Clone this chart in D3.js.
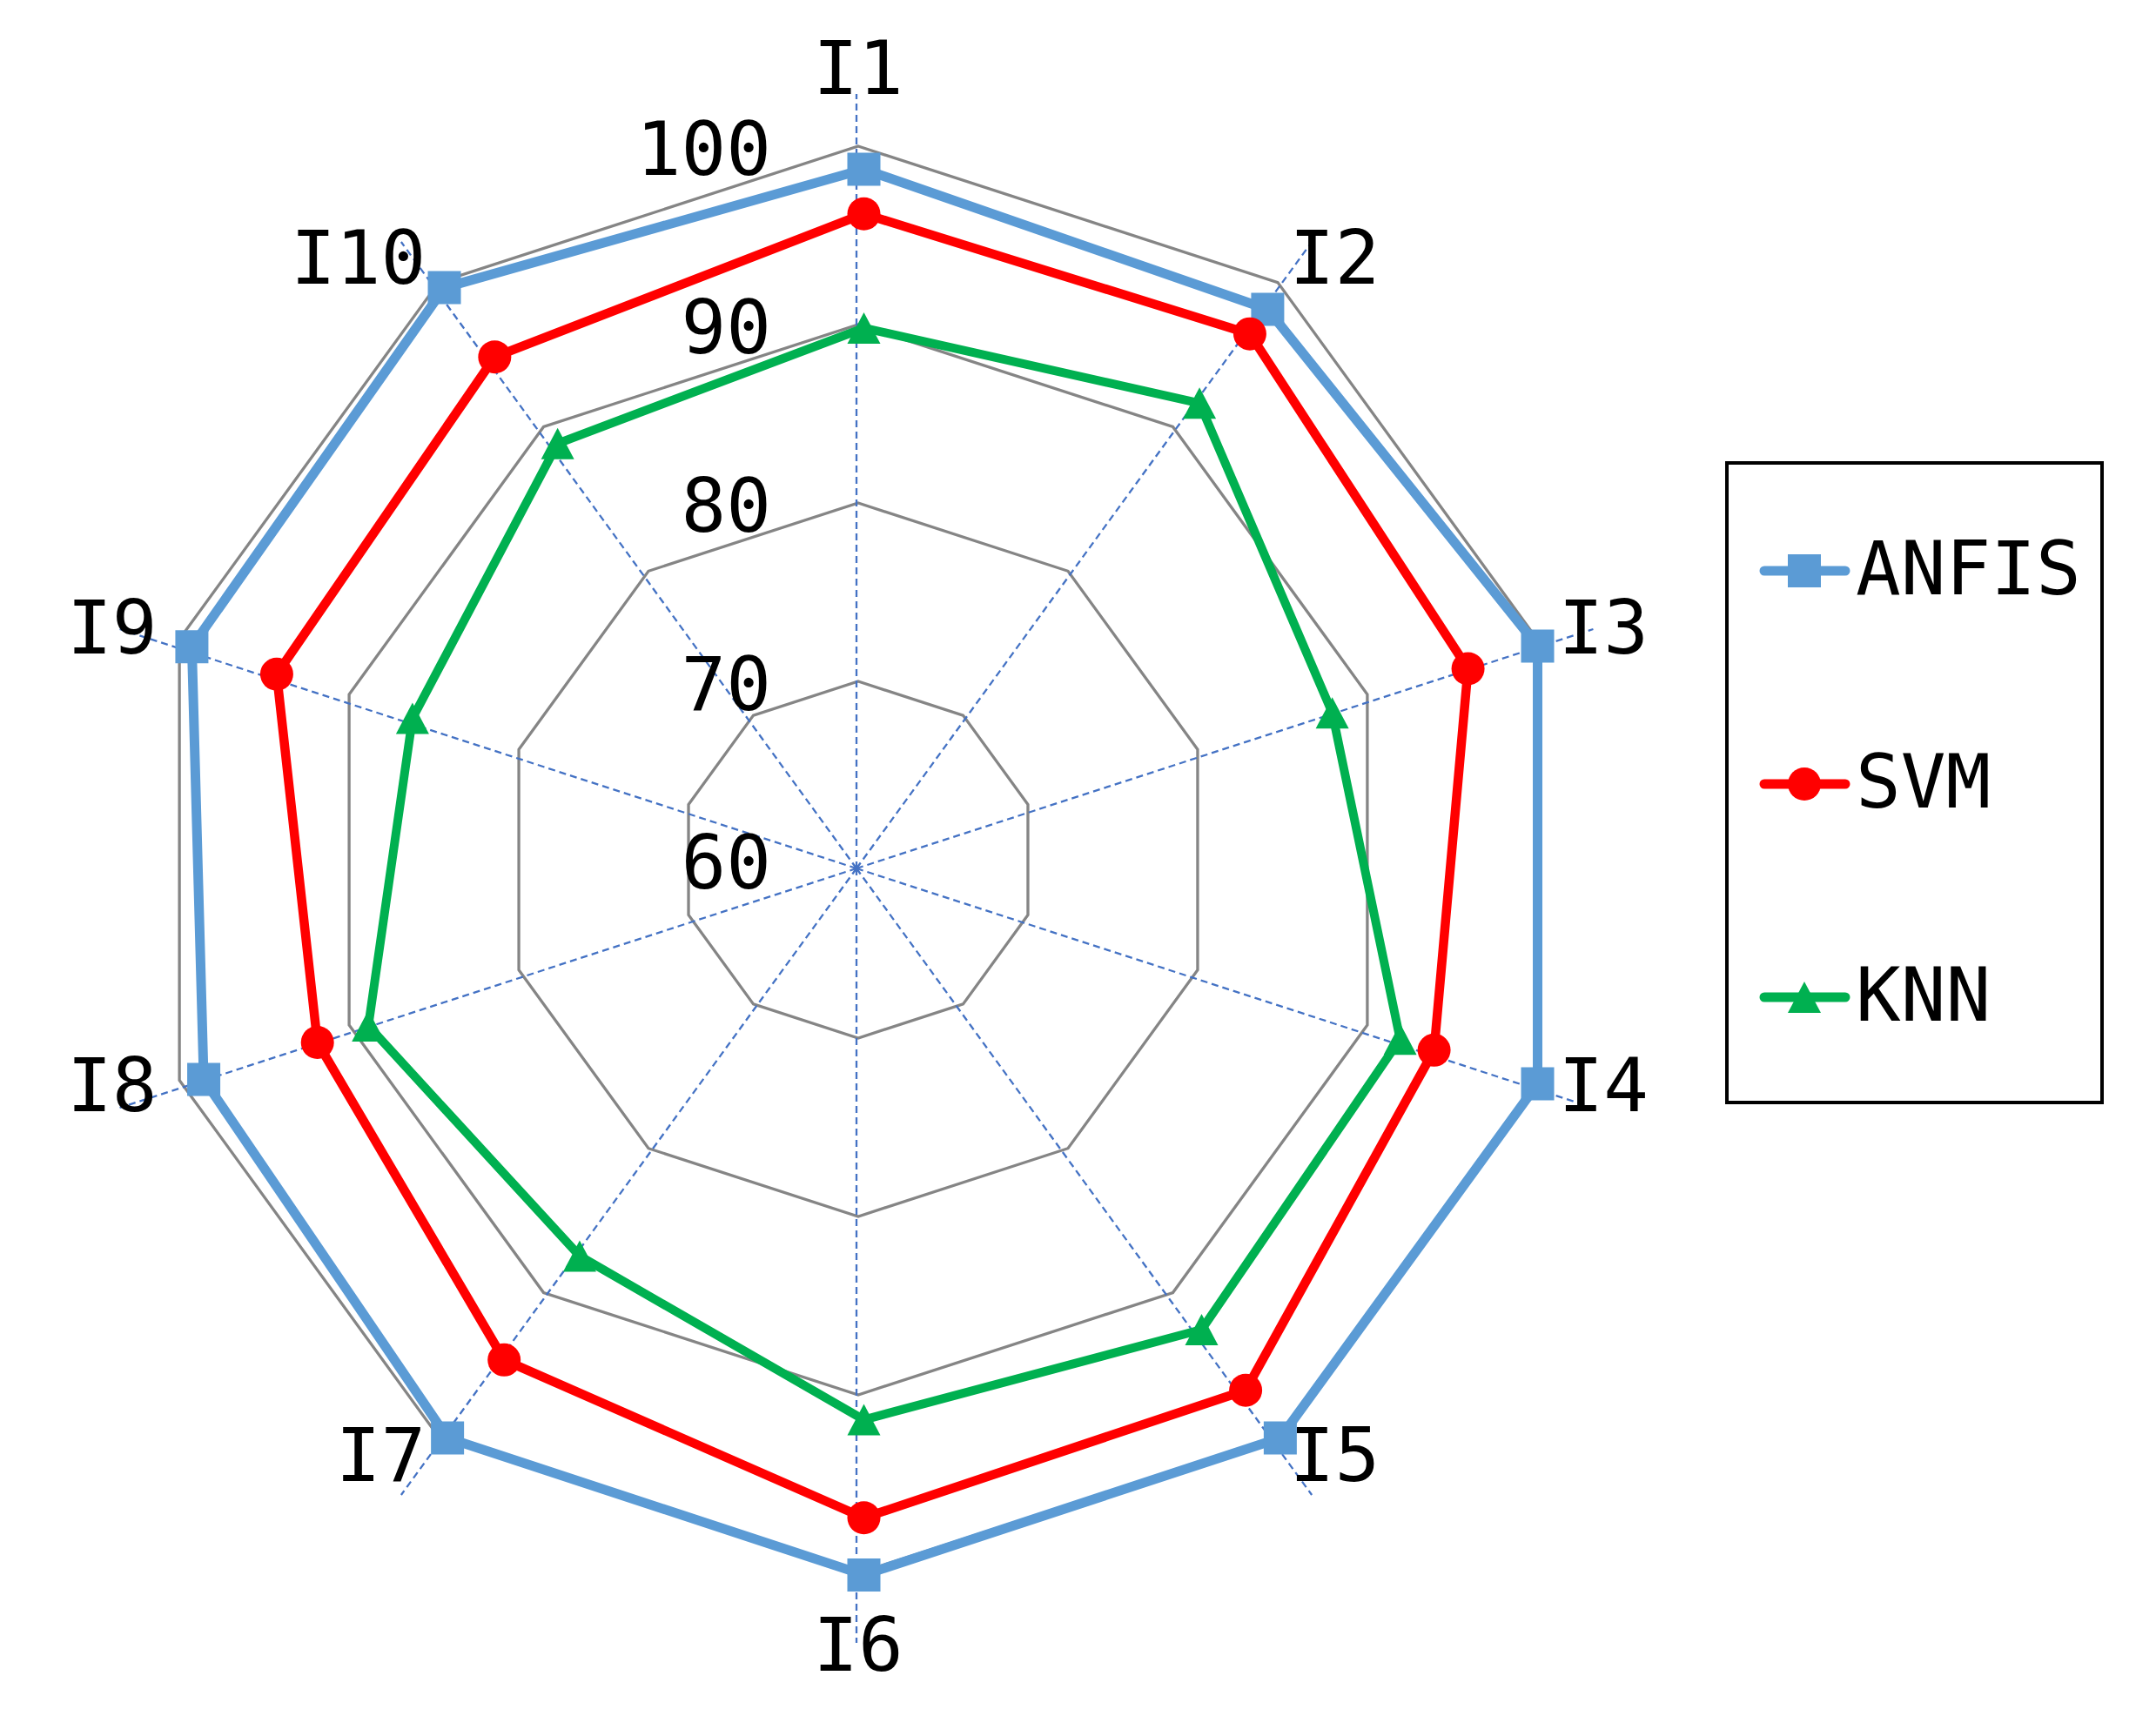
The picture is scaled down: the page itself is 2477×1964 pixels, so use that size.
<!DOCTYPE html>
<html><head><meta charset="utf-8">
<script src="https://cdn.jsdelivr.net/npm/d3@7"></script>
<style>html,body{margin:0;padding:0;background:#fff;} svg{display:block;}</style>
</head><body>
<svg id="chart" width="2477" height="1964"></svg>
<script>
// ---- data ----
const axesLabels = ["I1","I2","I3","I4","I5","I6","I7","I8","I9","I10"];
const anfisValues = [99.0, 98.5, 99.7, 99.7, 99.7, 99.8, 99.7, 98.9, 99.6, 100.0];
const svmValues   = [96.5, 96.8, 95.6, 93.6, 96.4, 96.6, 94.3, 92.2, 94.6, 95.2];
const knnValues   = [90.1, 92.0, 87.6, 91.6, 92.2, 91.1, 87.1, 89.2, 86.6, 89.2];
const tickValues  = [60, 70, 80, 90, 100];
const seriesNames = ["ANFIS", "SVM", "KNN"];

// ---- layout / style ----
const svg = d3.select("#chart");
const R = 820;
const gridCenter   = [986, 988];
const spokeCenter  = [984, 998];
const seriesCenter = [992.5, 994];
const labelCenter  = [986, 983];
const font = "'DejaVu Sans Mono', monospace";
const fontSize = 86;

const rScale = d3.scaleLinear().domain([60, 100]).range([0, R]);
const aScale = d3.scaleLinear().domain([0, axesLabels.length]).range([0, 2 * Math.PI]);
function pt(c, i, radius) {
  const a = aScale(i);
  return [c[0] + radius * Math.sin(a), c[1] - radius * Math.cos(a)];
}

const series = [
  {name: seriesNames[0], values: anfisValues, color: "#5B9BD5", width: 11,   marker: "square"},
  {name: seriesNames[1], values: svmValues,   color: "#FF0000", width: 10.5, marker: "circle"},
  {name: seriesNames[2], values: knnValues,   color: "#00B050", width: 10,   marker: "triangle"}
];

const triangleType = {
  draw(ctx, size) {
    const s = Math.sqrt(size);
    ctx.moveTo(0, -s / 2);
    ctx.lineTo(s / 2 + 1, s / 2);
    ctx.lineTo(-s / 2 - 1, s / 2);
    ctx.closePath();
  }
};
function markerPath(kind) {
  if (kind === "square") return d3.symbol(d3.symbolSquare, 38 * 38)();
  if (kind === "circle") return d3.symbol(d3.symbolCircle, Math.PI * 19 * 19)();
  return d3.symbol(triangleType, 36 * 36)();
}

const closedLine = d3.line().curve(d3.curveLinearClosed);

// ---- grid rings ----
const grid = svg.append("g");
tickValues.filter(t => rScale(t) > 0).forEach(t => {
  const pts = axesLabels.map((_, i) => pt(gridCenter, i, rScale(t)));
  grid.append("path")
    .attr("d", closedLine(pts))
    .attr("fill", "none")
    .attr("stroke", "#858585")
    .attr("stroke-width", 3.3)
    .attr("stroke-linejoin", "miter");
});

// ---- spokes ----
axesLabels.forEach((_, i) => {
  const [x2, y2] = pt(spokeCenter, i, 890);
  grid.append("line")
    .attr("x1", spokeCenter[0]).attr("y1", spokeCenter[1]).attr("x2", x2).attr("y2", y2)
    .attr("stroke", "#4472C4")
    .attr("stroke-width", 2.3)
    .attr("stroke-dasharray", "8,5");
});

// ---- tick labels ----
svg.append("g").selectAll("text").data(tickValues).join("text")
  .attr("x", 886)
  .attr("y", d => gridCenter[1] - rScale(d) + 33)
  .attr("text-anchor", "end")
  .attr("font-family", font)
  .attr("font-size", fontSize)
  .attr("fill", "#000")
  .text(d => d);

// ---- axis labels ----
svg.append("g").selectAll("text").data(axesLabels).join("text")
  .each(function(d, i) {
    const [x, y] = pt(labelCenter, i, 850);
    const s = Math.sin(aScale(i)), c = Math.cos(aScale(i));
    let anchor = "middle", tx = x, cy = y;
    if (s > 0.01) { anchor = "start"; tx = x - 4; }
    else if (s < -0.01) { anchor = "end"; tx = x + 3; }
    else { cy = y - Math.sign(c) * 56; }
    d3.select(this)
      .attr("x", tx)
      .attr("y", cy + 31)
      .attr("text-anchor", anchor);
  })
  .attr("font-family", font)
  .attr("font-size", fontSize)
  .attr("fill", "#000")
  .text(d => d);

// ---- series ----
const sg = svg.append("g");
series.forEach(s => {
  const pts = s.values.map((v, i) => pt(seriesCenter, i, rScale(v)));
  sg.append("path")
    .attr("d", closedLine(pts))
    .attr("fill", "none")
    .attr("stroke", s.color)
    .attr("stroke-width", s.width)
    .attr("stroke-linejoin", "round");
  sg.append("g").selectAll("path").data(pts).join("path")
    .attr("transform", d => `translate(${d[0]},${d[1]})`)
    .attr("d", markerPath(s.marker))
    .attr("fill", s.color);
});

// ---- legend ----
const lg = svg.append("g");
lg.append("rect")
  .attr("x", 1984).attr("y", 532).attr("width", 431).attr("height", 735)
  .attr("fill", "#fff").attr("stroke", "#000").attr("stroke-width", 4);
const legendY = d3.scalePoint().domain(seriesNames).range([656, 1146]);
series.forEach(s => {
  const y = legendY(s.name);
  lg.append("line")
    .attr("x1", 2027).attr("x2", 2120).attr("y1", y).attr("y2", y)
    .attr("stroke", s.color).attr("stroke-width", 11).attr("stroke-linecap", "round");
  lg.append("path")
    .attr("transform", `translate(2073,${y})`)
    .attr("d", markerPath(s.marker))
    .attr("fill", s.color);
  lg.append("text")
    .attr("x", 2132).attr("y", y + 27)
    .attr("font-family", font).attr("font-size", fontSize)
    .attr("fill", "#000")
    .text(s.name);
});
</script>
</body></html>
